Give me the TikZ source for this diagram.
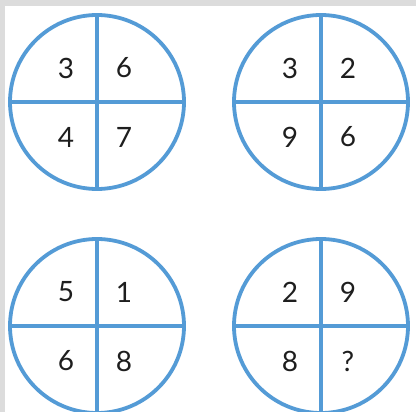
\documentclass[tikz,border=0pt]{standalone}
\usepackage{fontspec}
\setmainfont{Lato}
\definecolor{ringblue}{RGB}{84,155,214}
\definecolor{digit}{RGB}{30,30,30}
\definecolor{frame}{RGB}{220,220,220}
\tikzset{
  ring/.style={draw=ringblue, line width=3.8pt},
  num/.style={text=digit, font=\fontsize{28}{32}\selectfont, inner sep=0pt}
}
\begin{document}
\begin{tikzpicture}[x=1pt,y=-1pt]
\useasboundingbox (0,0) rectangle (416,412);
\clip (0,0) rectangle (416,412);
\fill[white] (0,0) rectangle (416,412);
\fill[frame] (0,0) rectangle (416,6);
\fill[frame] (0,0) rectangle (5,412);
\foreach \cx/\cy/\a/\b/\c/\d/\n in {97/102/3/6/4/7/A, 321/102/3/2/9/6/B, 97/326/5/1/6/8/C, 321/326/2/9/8/?/D}{
  \coordinate (\n) at (\cx,\cy);
  \draw[ring] (\n) circle[radius=87];
  \draw[ring] ([yshift=-87pt]\n) -- ([yshift=87pt]\n);
  \draw[ring] ([xshift=-87pt]\n) -- ([xshift=87pt]\n);
  \node[num] (\n1) at ([xshift=-31pt,yshift=34pt]\n) {\a};
  \node[num] (\n2) at ([xshift=27pt,yshift=34pt]\n) {\b};
  \node[num] (\n3) at ([xshift=-31pt,yshift=-35pt]\n) {\c};
  \node[num] (\n4) at ([xshift=27pt,yshift=-35pt]\n) {\d};
}
\end{tikzpicture}
\end{document}
